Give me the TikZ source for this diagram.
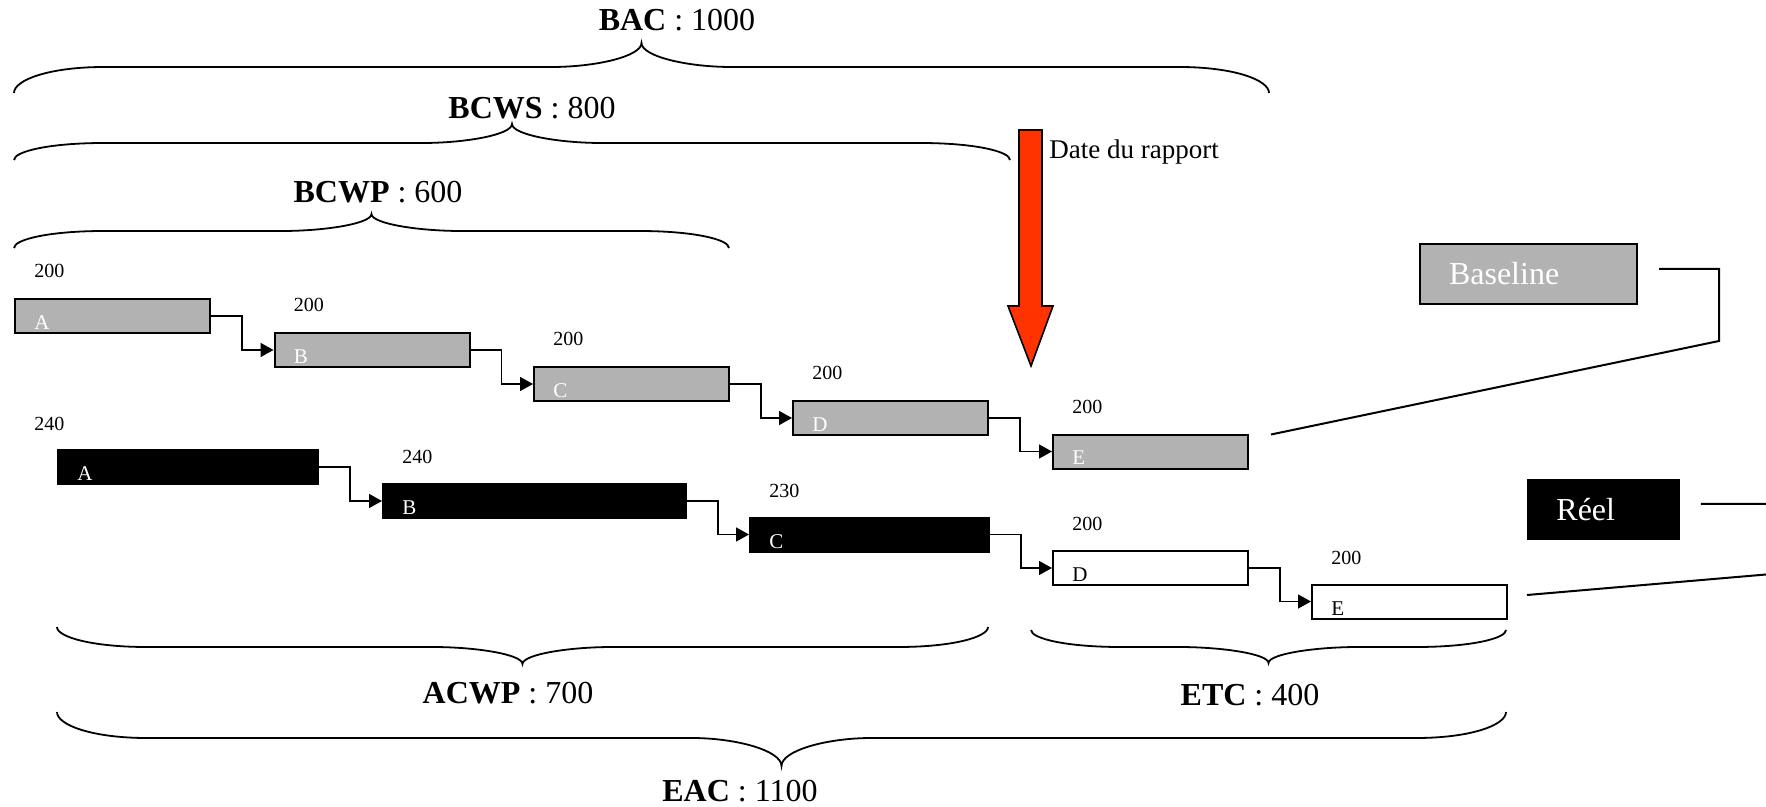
\documentclass[tikz,border=0pt]{standalone}
\usepackage{fontspec}
\setmainfont{Liberation Serif}
\usepackage{tikz}
\usetikzlibrary{arrows.meta}

\definecolor{basegray}{RGB}{178,178,178}
\definecolor{rapportred}{RGB}{255,51,0}

\tikzset{
  task/.style={anchor=north west, minimum height=17pt, inner sep=0pt, line width=1pt},
  gbox/.style={task, draw=black, fill=basegray, minimum width=97.5pt},
  rbox/.style={task, draw=black, fill=black},
  wbox/.style={task, draw=black, fill=white, minimum width=97.5pt},
  tag/.style={anchor=base west, inner sep=0pt, font=\fontsize{10.5}{12}\selectfont},
  num/.style={anchor=west, inner sep=0pt, font=\fontsize{10}{12}\selectfont},
  sum/.style={inner sep=0pt, font=\fontsize{16}{19}\selectfont},
  link/.style={line width=0.8pt, -{Triangle[length=6.5pt,width=7pt]}},
  bracket/.style={line width=0.9pt},
  keybox/.style={anchor=north west, inner xsep=14.5pt, inner ysep=0pt, align=left, text=white, font=\fontsize{16}{19}\selectfont},
  legline/.style={line width=1pt}
}

% Word-like curly brace: left x, right x, tip y, flat y, cusp y
\newcommand{\wbrace}[5]{%
  \pgfmathsetmacro{\bracemid}{(#1+#2)/2}
  \draw[bracket] (#1,#3) .. controls (#1,{#3+0.5*(#4-#3)}) and ({#1+35},#4) .. ({#1+90},#4)
    -- ({\bracemid-90},#4) .. controls ({\bracemid-45},#4) and (\bracemid,{#4+0.45*(#5-#4)}) .. (\bracemid,#5)
    .. controls (\bracemid,{#4+0.45*(#5-#4)}) and ({\bracemid+45},#4) .. ({\bracemid+90},#4)
    -- ({#2-90},#4) .. controls ({#2-35},#4) and (#2,{#3+0.5*(#4-#3)}) .. (#2,#3);
}

\begin{document}
\begin{tikzpicture}[x=0.5pt,y=-0.5pt]
\useasboundingbox (0,0) rectangle (1766,807);
\clip (0,0) rectangle (1766,807);

% budget braces
\wbrace{14}{1269}{93}{67}{43}
\wbrace{14}{1010}{160}{143}{124}
\wbrace{14}{729}{248}{231}{214}
\node[sum] (bac) at (677,20) {\textbf{BAC} : 1000};
\node[sum] (bcws) at (532,108) {\textbf{BCWS} : 800};
\node[sum] (bcwp) at (378,192) {\textbf{BCWP} : 600};

% date du rapport
\filldraw[fill=rapportred, draw=black, line width=0.8pt] (1019,130) -- (1042,130) -- (1042,306) -- (1053,306) -- (1031,366) -- (1008,306) -- (1019,306) -- cycle;
\node[anchor=west, inner sep=0pt, font=\fontsize{13.5}{16}\selectfont] (date) at (1049,152) {Date du rapport};

% baseline
\node[gbox] (bA) at (14,298) {};
\node[gbox] (bB) at (273.5,332) {};
\node[gbox] (bC) at (533,366) {};
\node[gbox] (bD) at (792,400) {};
\node[gbox] (bE) at (1052,433.5) {};
\node[tag, text=white] (bAt) at ([shift={(20,-4.5)}]bA.south west) {A};
\node[tag, text=white] (bBt) at ([shift={(20,-4.5)}]bB.south west) {B};
\node[tag, text=white] (bCt) at ([shift={(20,-4.5)}]bC.south west) {C};
\node[tag, text=white] (bDt) at ([shift={(20,-4.5)}]bD.south west) {D};
\node[tag, text=white] (bEt) at ([shift={(20,-4.5)}]bE.south west) {E};
\node[num] (bAn) at ([shift={(20,-27)}]bA.north west) {200};
\node[num] (bBn) at ([shift={(20,-27)}]bB.north west) {200};
\node[num] (bCn) at ([shift={(20,-27)}]bC.north west) {200};
\node[num] (bDn) at ([shift={(20,-27)}]bD.north west) {200};
\node[num] (bEn) at ([shift={(20,-27)}]bE.north west) {200};
\draw[link] (bA.east) -- ++(31,0) |- (bB.west);
\draw[link] (bB.east) -- ++(31,0) |- (bC.west);
\draw[link] (bC.east) -- ++(31,0) |- (bD.west);
\draw[link] (bD.east) -- ++(31,0) |- (bE.west);

% reel
\node[rbox, minimum width=130pt] (rA) at (57,449) {};
\node[rbox, minimum width=151.5pt] (rB) at (382,483) {};
\node[rbox, minimum width=119.5pt] (rC) at (749,516.5) {};
\node[wbox] (rD) at (1052,550) {};
\node[wbox] (rE) at (1311,583.5) {};
\node[tag, text=white] (rAt) at ([shift={(20,-4.5)}]rA.south west) {A};
\node[tag, text=white] (rBt) at ([shift={(20,-4.5)}]rB.south west) {B};
\node[tag, text=white] (rCt) at ([shift={(20,-4.5)}]rC.south west) {C};
\node[tag] (rDt) at ([shift={(20,-4.5)}]rD.south west) {D};
\node[tag] (rEt) at ([shift={(20,-4.5)}]rE.south west) {E};
\node[num] (rAn) at (34,423.5) {240};
\node[num] (rBn) at ([shift={(20,-26)}]rB.north west) {240};
\node[num] (rCn) at ([shift={(20,-26)}]rC.north west) {230};
\node[num] (rDn) at ([shift={(20,-26)}]rD.north west) {200};
\node[num] (rEn) at ([shift={(20,-26)}]rE.north west) {200};
\draw[link] (rA.east) -- ++(31,0) |- (rB.west);
\draw[link] (rB.east) -- ++(31,0) |- (rC.west);
\draw[link] (rC.east) -- ++(31,0) |- (rD.west);
\draw[link] (rD.east) -- ++(31,0) |- (rE.west);

% cost braces
\wbrace{57}{988}{627}{647}{664}
\wbrace{1031}{1506}{630}{647}{663}
\wbrace{57}{1506}{712}{738}{766}
\node[sum] (acwp) at (508,693) {\textbf{ACWP} : 700};
\node[sum] (etc) at (1250,695) {\textbf{ETC} : 400};
\node[sum] (eac) at (740,791) {\textbf{EAC} : 1100};

% legend
\node[keybox, draw=black, line width=1pt, fill=basegray, text width=79.5pt, minimum height=30pt] (lbase) at (1419,243) {Baseline};
\node[keybox, fill=black, text width=47.5pt, minimum height=30.5pt] (lreel) at (1527,479) {Réel};
\coordinate (bbend) at (1719,341);
\coordinate (rbend) at (1830,569);
\draw[legline] ([shift={(21,-5)}]lbase.east) -| (bbend) -- ([shift={(22,1)}]bE.north east);
\draw[legline] ([shift={(20,-6)}]lreel.east) -| (rbend) -- ([shift={(19,-6.5)}]rE.east);
\end{tikzpicture}
\end{document}
